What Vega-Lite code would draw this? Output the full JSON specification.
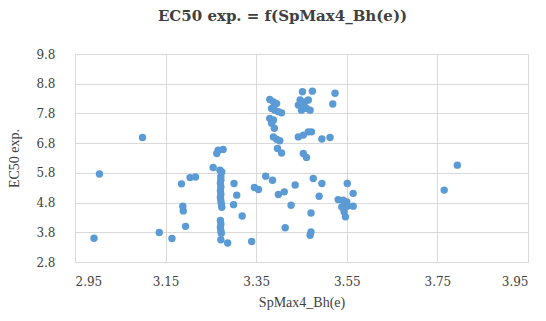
{
  "$schema": "https://vega.github.io/schema/vega-lite/v6.json",
  "width": 453,
  "height": 208,
  "autosize": {"type": "none"},
  "padding": {"left": 75, "top": 54, "right": 18, "bottom": 59},
  "background": "white",
  "title": {
    "text": "EC50 exp. = f(SpMax4_Bh(e))",
    "font": "DejaVu Serif",
    "fontSize": 15,
    "fontWeight": "bold",
    "color": "#404040",
    "anchor": "middle",
    "dx": -19,
    "offset": 24
  },
  "config": {
    "view": {"stroke": "#d9d9d9", "strokeWidth": 1},
    "axis": {
      "labelFont": "DejaVu Serif",
      "labelFontSize": 12,
      "labelColor": "#404040",
      "titleFont": "Liberation Serif",
      "titleFontSize": 14,
      "titleFontWeight": "normal",
      "titleColor": "#404040",
      "gridColor": "#d9d9d9",
      "gridWidth": 1,
      "domain": false,
      "ticks": false
    }
  },
  "data": {
    "values": [
      {"x": 3.004, "y": 5.76}, {"x": 3.099, "y": 6.99}, {"x": 2.992, "y": 3.6},
      {"x": 3.136, "y": 3.79}, {"x": 3.164, "y": 3.59}, {"x": 3.185, "y": 5.43},
      {"x": 3.188, "y": 4.68}, {"x": 3.189, "y": 4.52}, {"x": 3.194, "y": 4.0},
      {"x": 3.204, "y": 5.64}, {"x": 3.216, "y": 5.66},
      {"x": 3.266, "y": 6.56}, {"x": 3.277, "y": 6.59}, {"x": 3.263, "y": 6.45},
      {"x": 3.255, "y": 5.98}, {"x": 3.27, "y": 5.89}, {"x": 3.274, "y": 5.83},
      {"x": 3.272, "y": 5.67}, {"x": 3.272, "y": 5.55}, {"x": 3.271, "y": 5.45},
      {"x": 3.272, "y": 5.32}, {"x": 3.271, "y": 5.2}, {"x": 3.272, "y": 5.08},
      {"x": 3.271, "y": 4.97}, {"x": 3.272, "y": 4.86}, {"x": 3.273, "y": 4.75},
      {"x": 3.274, "y": 4.64}, {"x": 3.271, "y": 4.2}, {"x": 3.272, "y": 4.08},
      {"x": 3.271, "y": 3.96}, {"x": 3.272, "y": 3.85}, {"x": 3.273, "y": 3.77},
      {"x": 3.272, "y": 3.55}, {"x": 3.287, "y": 3.44},
      {"x": 3.301, "y": 5.44}, {"x": 3.307, "y": 5.05}, {"x": 3.3, "y": 4.73},
      {"x": 3.319, "y": 4.35}, {"x": 3.34, "y": 3.49},
      {"x": 3.346, "y": 5.31}, {"x": 3.355, "y": 5.24},
      {"x": 3.371, "y": 5.69}, {"x": 3.386, "y": 5.55},
      {"x": 3.399, "y": 5.07}, {"x": 3.412, "y": 5.16}, {"x": 3.427, "y": 4.71},
      {"x": 3.414, "y": 3.95}, {"x": 3.436, "y": 5.39}, {"x": 3.471, "y": 4.45},
      {"x": 3.471, "y": 3.81}, {"x": 3.469, "y": 3.7}, {"x": 3.476, "y": 5.61},
      {"x": 3.495, "y": 5.44}, {"x": 3.489, "y": 5.01},
      {"x": 3.551, "y": 5.44}, {"x": 3.564, "y": 5.11},
      {"x": 3.531, "y": 4.9}, {"x": 3.542, "y": 4.88}, {"x": 3.55, "y": 4.82},
      {"x": 3.539, "y": 4.65}, {"x": 3.551, "y": 4.68}, {"x": 3.564, "y": 4.68},
      {"x": 3.544, "y": 4.49}, {"x": 3.547, "y": 4.32},
      {"x": 3.454, "y": 6.45}, {"x": 3.461, "y": 6.32},
      {"x": 3.443, "y": 7.01}, {"x": 3.454, "y": 7.07}, {"x": 3.465, "y": 7.18}, {"x": 3.472, "y": 7.18},
      {"x": 3.495, "y": 6.94}, {"x": 3.513, "y": 6.99},
      {"x": 3.38, "y": 8.27}, {"x": 3.388, "y": 8.19}, {"x": 3.395, "y": 8.13},
      {"x": 3.384, "y": 7.97}, {"x": 3.391, "y": 7.91}, {"x": 3.399, "y": 7.86},
      {"x": 3.406, "y": 7.82}, {"x": 3.38, "y": 7.63}, {"x": 3.388, "y": 7.58},
      {"x": 3.384, "y": 7.47}, {"x": 3.39, "y": 7.3}, {"x": 3.388, "y": 7.01},
      {"x": 3.395, "y": 6.93}, {"x": 3.402, "y": 6.88}, {"x": 3.397, "y": 6.62},
      {"x": 3.406, "y": 6.47},
      {"x": 3.452, "y": 8.53}, {"x": 3.474, "y": 8.55}, {"x": 3.524, "y": 8.48},
      {"x": 3.519, "y": 8.12}, {"x": 3.447, "y": 8.25}, {"x": 3.458, "y": 8.19},
      {"x": 3.465, "y": 8.25}, {"x": 3.443, "y": 8.08}, {"x": 3.454, "y": 8.02},
      {"x": 3.461, "y": 7.97}, {"x": 3.469, "y": 7.91}, {"x": 3.45, "y": 7.91},
      {"x": 3.794, "y": 6.06}, {"x": 3.765, "y": 5.22}
    ]
  },
  "mark": {"type": "point", "shape": "circle", "filled": true, "size": 55, "color": "#5b9bd5", "opacity": 1},
  "encoding": {
    "x": {
      "field": "x", "type": "quantitative",
      "scale": {"domain": [2.95, 3.95], "zero": false, "nice": false},
      "axis": {"values": [2.95, 3.15, 3.35, 3.55, 3.75, 3.95], "format": ".2f", "labelPadding": 14, "title": "SpMax4_Bh(e)", "titlePadding": 8}
    },
    "y": {
      "field": "y", "type": "quantitative",
      "scale": {"domain": [2.8, 9.8], "zero": false, "nice": false},
      "axis": {"values": [2.8, 3.8, 4.8, 5.8, 6.8, 7.8, 8.8, 9.8], "format": ".1f", "labelPadding": 20, "title": "EC50 exp.", "titlePadding": 14}
    }
  }
}
